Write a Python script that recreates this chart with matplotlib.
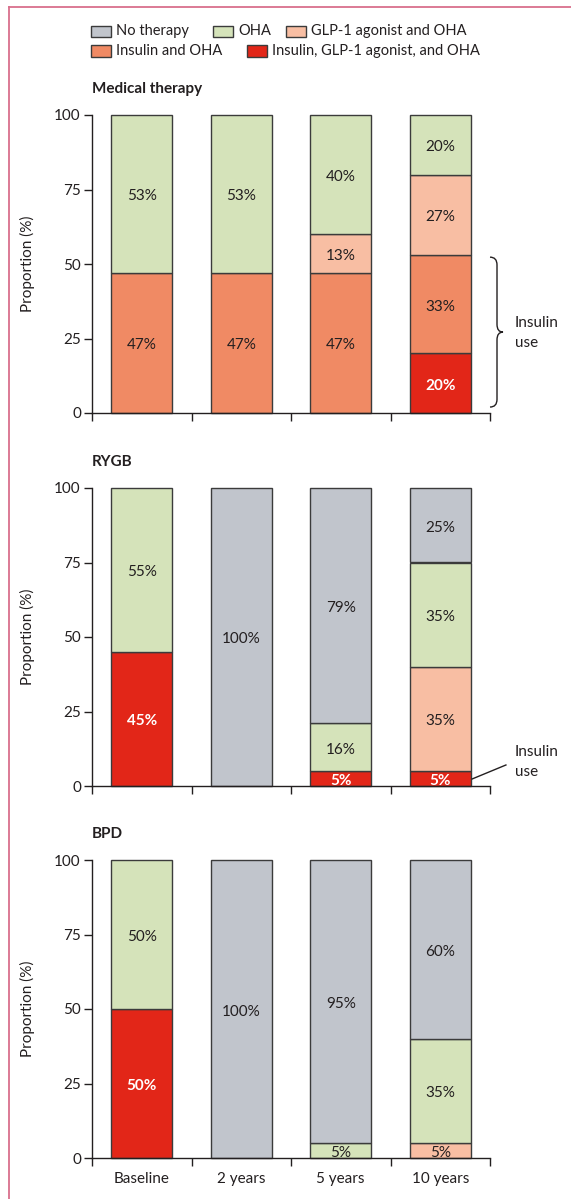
import matplotlib
matplotlib.use("Agg")
import matplotlib.pyplot as plt
from matplotlib.patches import Rectangle, PathPatch
from matplotlib.path import Path
from matplotlib.lines import Line2D
import matplotlib.transforms as mtransforms
import numpy as np

plt.rcParams['font.family'] = ['Lato', 'DejaVu Sans']

# ---- data -------------------------------------------------------------
categories = ["Baseline", "2 years", "5 years", "10 years"]
therapies = ["No therapy", "OHA", "GLP-1 agonist and OHA",
             "Insulin and OHA", "Insulin, GLP-1 agonist, and OHA"]
colors = {
    "No therapy": "#c1c5cc",
    "OHA": "#d5e3ba",
    "GLP-1 agonist and OHA": "#f8bea3",
    "Insulin and OHA": "#f08a64",
    "Insulin, GLP-1 agonist, and OHA": "#e22618",
}

# Medical therapy
med_triple = [0, 0, 0, 20]
med_insulin = [47, 47, 47, 33]
med_glp = [0, 0, 13, 27]
med_oha = [53, 53, 40, 20]
med_none = [0, 0, 0, 0]

# RYGB
rygb_triple = [45, 0, 5, 5]
rygb_insulin = [0, 0, 0, 0]
rygb_glp = [0, 0, 0, 35]
rygb_oha = [55, 0, 16, 35]
rygb_none = [0, 100, 79, 25]

# BPD
bpd_triple = [50, 0, 0, 0]
bpd_insulin = [0, 0, 0, 0]
bpd_glp = [0, 0, 0, 5]
bpd_oha = [50, 0, 5, 35]
bpd_none = [0, 100, 95, 60]

panels = [
    ("Medical therapy", [med_triple, med_insulin, med_glp, med_oha, med_none]),
    ("RYGB", [rygb_triple, rygb_insulin, rygb_glp, rygb_oha, rygb_none]),
    ("BPD", [bpd_triple, bpd_insulin, bpd_glp, bpd_oha, bpd_none]),
]
# stacking order, bottom to top
stack_order = ["Insulin, GLP-1 agonist, and OHA", "Insulin and OHA",
               "GLP-1 agonist and OHA", "OHA", "No therapy"]

# ---- figure -----------------------------------------------------------
W, H = 571, 1199
fig = plt.figure(figsize=(W / 100, H / 100), dpi=100)

INK = "#231f20"
EDGE = "#3b3b3b"
FS = 11
FS_LEG = 10.5


def px_rect(x, y, w, h):
    return [x / W, 1 - (y + h) / H, w / W, h / H]


# page frame line
fig.add_artist(Line2D([8.5 / W, 8.5 / W], [0, 1 - 6.5 / H], transform=fig.transFigure,
                      color="#d9708c", lw=1.3))
fig.add_artist(Line2D([8.5 / W, 1], [1 - 6.5 / H, 1 - 6.5 / H], transform=fig.transFigure,
                      color="#d9708c", lw=1.3))

# legend drawn as two rows
legend_items = [
    ("No therapy", 91, 31), ("OHA", 213, 31), ("GLP-1 agonist and OHA", 286, 31),
    ("Insulin and OHA", 91, 51), ("Insulin, GLP-1 agonist, and OHA", 247, 51),
]
for name, lx, ly in legend_items:
    fig.add_artist(Rectangle((lx / W, 1 - (ly + 5.5) / H), 20 / W, 11 / H,
                             transform=fig.transFigure, facecolor=colors[name],
                             edgecolor=EDGE, lw=1.0))
    fig.text((lx + 25) / W, 1 - ly / H, name, fontsize=FS_LEG, color=INK,
             ha="left", va="center")

axes_tops = [115, 488, 860]
ax_h = 298
x = np.arange(len(categories))
bar_w = 0.61

for i, (title, series) in enumerate(panels):
    ax = fig.add_axes(px_rect(92, axes_tops[i], 398, ax_h))
    data = dict(zip(stack_order, series))
    # segment labels sit a touch below the geometric centre
    lbl_trans = ax.transData + mtransforms.ScaledTranslation(0, -2.5 / 100, fig.dpi_scale_trans)
    bottom = np.zeros(len(categories))
    for name in stack_order:
        vals = np.array(data[name], dtype=float)
        keep = vals > 0
        if keep.any():
            ax.bar(x[keep], vals[keep], bar_w, bottom=bottom[keep],
                   color=colors[name], edgecolor=EDGE, linewidth=1.0,
                   clip_on=False, zorder=2)
        for j, v in enumerate(vals):
            if v <= 0:
                continue
            yc = bottom[j] + v / 2
            if name == "Insulin, GLP-1 agonist, and OHA":
                ax.text(x[j], yc, f"{int(v)}%", ha="center", va="center",
                        color="white", fontsize=FS, fontweight="bold", zorder=3,
                        transform=lbl_trans)
            else:
                ax.text(x[j], yc, f"{int(v)}%", ha="center", va="center",
                        color=INK, fontsize=FS, zorder=3, transform=lbl_trans)
        bottom += vals

    ax.set_xlim(-0.5, 3.5)
    ax.set_ylim(0, 100)
    for s in ("top", "right"):
        ax.spines[s].set_visible(False)
    for s in ("left", "bottom"):
        ax.spines[s].set_color(INK)
        ax.spines[s].set_linewidth(1.0)
    ax.set_yticks([0, 25, 50, 75, 100])
    ax.tick_params(axis="y", direction="out", length=6, width=1.0, color=INK,
                   labelsize=FS, labelcolor=INK, pad=2)
    ax.set_xticks(x)
    ax.set_xticks(np.arange(-0.5, 4.0, 1.0), minor=True)
    ax.tick_params(axis="x", which="major", length=0, pad=10,
                   labelsize=FS, labelcolor=INK)
    ax.tick_params(axis="x", which="minor", direction="out", length=6,
                   width=1.0, color=INK)
    if i == 2:
        ax.set_xticklabels(categories)
    else:
        ax.set_xticklabels([])
    ax.set_ylabel("Proportion (%)", fontsize=FS, color=INK)
    ax.yaxis.set_label_coords(-57 / 398, 0.5)
    ax.text(0.0, 1 + 26 / ax_h, title, transform=ax.transAxes, fontsize=FS,
            fontweight="bold", color=INK, ha="left", va="center")

    trans = mtransforms.blended_transform_factory(ax.transAxes, ax.transData)
    if i == 0:
        # curly brace spanning the insulin-containing segments at 10 years
        y0, y1 = 2.0, 52.3
        ym = (y0 + y1) / 2
        xa, xb, xc = 1.0, 1.0176, 1.0327
        r = 2.6
        verts = [(xa, y1), (xb, y1), (xb, y1 - r), (xb, ym + r),
                 (xb, ym), (xc, ym), (xb, ym), (xb, ym - r),
                 (xb, y0 + r), (xb, y0), (xa, y0)]
        codes = [Path.MOVETO, Path.CURVE3, Path.CURVE3, Path.LINETO,
                 Path.CURVE3, Path.CURVE3, Path.CURVE3, Path.CURVE3,
                 Path.LINETO, Path.CURVE3, Path.CURVE3]
        ax.add_patch(PathPatch(Path(verts, codes), transform=trans, fill=False,
                               edgecolor=INK, lw=1.0, clip_on=False))
        ax.text(1.063, 30.2, "Insulin", transform=trans, fontsize=FS, color=INK,
                ha="left", va="center")
        ax.text(1.063, 23.5, "use", transform=trans, fontsize=FS, color=INK,
                ha="left", va="center")
    elif i == 1:
        ax.add_line(Line2D([0.955, 1.040], [2.35, 7.05], transform=trans,
                           color=INK, lw=1.0, clip_on=False))
        ax.text(1.063, 11.4, "Insulin", transform=trans, fontsize=FS, color=INK,
                ha="left", va="center")
        ax.text(1.063, 4.7, "use", transform=trans, fontsize=FS, color=INK,
                ha="left", va="center")

fig.savefig("out.png", dpi=100)
